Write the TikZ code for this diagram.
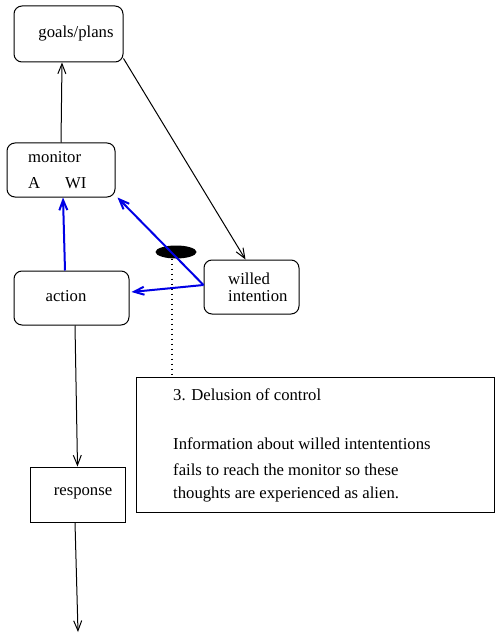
\documentclass[tikz,border=0pt]{standalone}
\usepackage{fontspec}
\setmainfont{Liberation Serif}
\usetikzlibrary{arrows.meta,shapes.geometric}

\begin{document}
\begin{tikzpicture}[x=1pt,y=-1pt]
    % ===================================
    % settings
    % ===================================
    \def\fs{16.7}   % font size
    \tikzset{
        box/.style={draw, rounded corners=8pt, line width=1pt, inner sep=0pt},
        plainbox/.style={draw, line width=1pt, inner sep=0pt},
        txt/.style={font=\fontsize{\fs}{20}\selectfont, inner sep=0pt},
        arr/.style={-{Straight Barb[length=10pt,width=8pt]}, line width=1pt},
        bluearr/.style={-{Straight Barb[length=10pt,width=8pt]}, draw=blue!90!black, line width=2pt},
    }
    % ===================================
    \useasboundingbox (0,0) rectangle (495,639);

    % 1. boxes
    \node[box, minimum width=109pt, minimum height=56pt] (goals) at (68.5,34) {};
    \node[txt] (goalstxt) at (76,34) {goals/plans};

    \node[box, minimum width=108pt, minimum height=54pt] (monitor) at (61,170) {};
    \node[txt, anchor=west] (montxt) at (28,157) {monitor};
    \node[txt, anchor=west] (montxtA) at (28,183) {A};
    \node[txt, anchor=west] (montxtWI) at (65,183) {WI};

    \node[box, minimum width=115pt, minimum height=54pt] (action) at (71.5,298) {};
    \node[txt] (actiontxt) at (66,296) {action};

    \node[box, minimum width=95pt, minimum height=54pt] (willed) at (251.5,287) {};
    \node[txt, align=left, anchor=west] (willedtxt) at (228,287) {willed\\[-3pt]intention};

    \node[plainbox, minimum width=95pt, minimum height=55pt] (response) at (77.5,494.5) {};
    \node[txt] (responsetxt) at (83,493) {response};

    % 2. blocked pathway and explanation
    \node[ellipse, fill=black, minimum width=41pt, minimum height=13pt, inner sep=0pt] (block) at (176,252) {};
    \node[plainbox, minimum width=358pt, minimum height=135pt] (note) at (315,444.5) {};
    \draw[dash pattern=on 1.5pt off 3.5pt, line width=1.3pt] ([xshift=-4pt]block.south) -- ([xshift=-143pt]note.north);

    \node[txt, anchor=west] (notetitle) at (173,395) {3. Delusion of control};
    \node[txt, anchor=west] (noteA) at (173,444) {Information about willed intententions};
    \node[txt, anchor=west] (noteB) at (173,470) {fails to reach the monitor so these};
    \node[txt, anchor=west] (noteC) at (173,495) {thoughts are experienced as alien.};

    % 3. connectors
    \coordinate (out) at (78,632);
    \draw[arr] ([xshift=0pt]monitor.north) -- ([xshift=-6.5pt]goals.south);
    \draw[arr] ([yshift=4pt]goals.south east) -- ([xshift=-6pt]willed.north);
    \draw[arr] ([xshift=3.5pt]action.south) -- (response.north);
    \draw[arr] ([xshift=-2.5pt]response.south) -- (out);

    \draw[bluearr] ([xshift=-6.5pt]action.north) -- ([xshift=2pt]monitor.south);
    \draw[bluearr] ([yshift=2pt]willed.west) -- ([xshift=2pt]monitor.south east);
    \draw[bluearr] ([yshift=2pt]willed.west) -- ([yshift=6pt,xshift=2pt]action.east);

\end{tikzpicture}
\end{document}
